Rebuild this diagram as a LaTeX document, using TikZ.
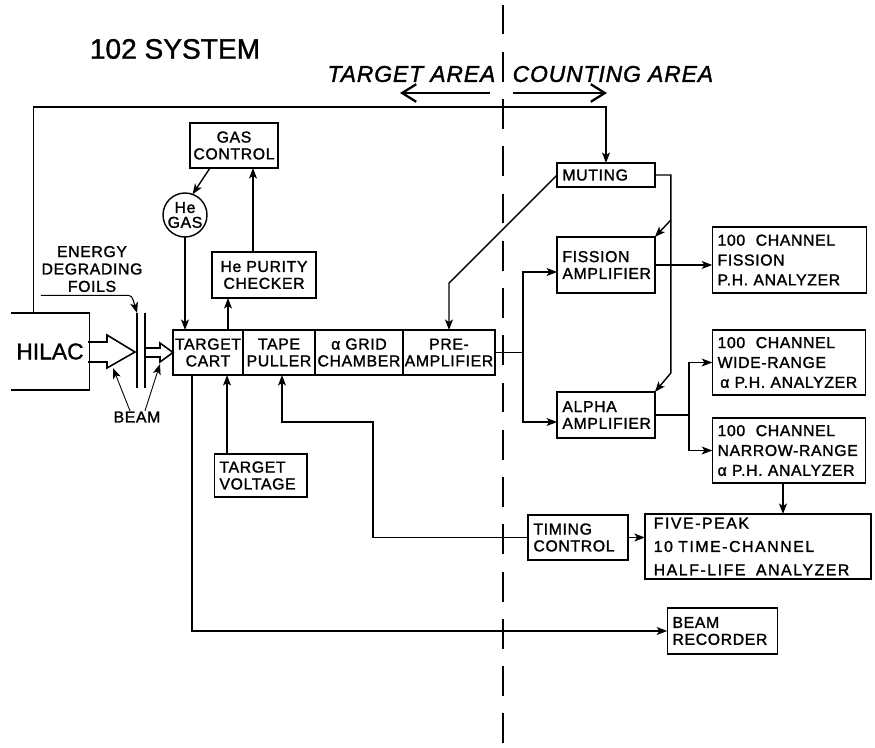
\documentclass[tikz,border=0pt]{standalone}
\usepackage{fontspec}
\setmainfont{Liberation Sans}[FakeBold=1.2]
\newfontfamily\lettering{Liberation Sans}[LetterSpace=4, FakeBold=1.5]
\usetikzlibrary{arrows.meta, positioning, calc}

\begin{document}
\begin{tikzpicture}[x=0.02cm, y=-0.02cm, line width=0.8pt,
    >={Stealth[length=6pt, width=4.5pt, inset=1.5pt]},
    blk/.style={draw, outer sep=0pt, inner xsep=1pt, inner ysep=1pt,
                font=\lettering\fontsize{9}{9.6}\selectfont, align=center},
    lblk/.style={blk, align=left, inner xsep=3pt, text width=#1},
    tall/.style={font=\lettering\fontsize{9}{11.3}\selectfont},
    lbl/.style={inner sep=0pt, align=center,
                font=\lettering\fontsize{9}{9.9}\selectfont},
    area/.style={inner sep=0pt, font=\lettering\itshape\fontsize{13}{13}\selectfont},
    bigarrow/.style={-{Straight Barb[length=8pt, width=10pt]}, line width=1.3pt}]
  \useasboundingbox (0,0) rectangle (875,747);

  % title and areas
  \node[inner sep=0pt, font=\fontsize{16}{16}\selectfont] (title) at (175,49) {102 SYSTEM};
  \coordinate (div) at (503,93);
  \node[area, anchor=east] (tarea) at (496,74) {TARGET AREA};
  \node[area, anchor=west] (carea) at (512,74) {COUNTING AREA};
  \draw[bigarrow] ([xshift=-0.26cm]div) -- ([xshift=-2.06cm]div);
  \draw[bigarrow] ([xshift=0.2cm]div) -- ([xshift=2.08cm]div);
  \draw[line width=1.3pt, dash pattern=on 17pt off 9.9pt] (503,4.5) -- (503,747);

  % accelerator and beam
  \node[outer sep=0pt, minimum width=1.52cm, minimum height=1.54cm,
        font=\fontsize{13}{13}\selectfont] (hilac) at (50,351.5) {HILAC};
  \draw (hilac.north west) -- (hilac.north east) -- (hilac.south east) -- (hilac.south west);
  \coordinate (fa) at (137,313);
  \coordinate (fb) at (145,313);
  \draw[line width=1.1pt] (fa) -- ++(0,75) (fb) -- ++(0,75);
  \node[lbl] (foils) at (92,269) {ENERGY\\DEGRADING\\FOILS};
  \draw[->, line width=0.6pt] ([yshift=-1.5pt]foils.south west) -- ++(84,0)
    .. controls +(7,0) .. (fa);

  % target area
  \node[blk, minimum width=1.4cm, minimum height=0.9cm] (cart) at (208,352.5) {TARGET\\CART};
  \node[blk, minimum width=1.44cm, minimum height=0.9cm, right=0pt of cart] (puller) {TAPE\\PULLER};
  \node[blk, minimum width=1.76cm, minimum height=0.9cm, right=0pt of puller] (grid) {α GRID\\CHAMBER};
  \node[blk, minimum width=1.84cm, minimum height=0.9cm, right=0pt of grid] (preamp) {PRE-\\AMPLIFIER};
  \node[blk, minimum width=1.76cm, minimum height=0.9cm] (gasctl) at (234,145.5) {GAS\\CONTROL};
  \node[blk, circle, minimum size=0.88cm, inner sep=0pt,
        font=\lettering\fontsize{9}{8.5}\selectfont] (hegas) at (185,215) {He\\GAS};
  \node[blk, minimum width=2.08cm, minimum height=0.92cm] (purity) at (264,275) {He PURITY\\CHECKER};
  \node[lblk=46.7pt, minimum height=0.86cm] (voltage) at (260.5,475.5) {TARGET\\VOLTAGE};

  \draw[line width=0.9pt] (88,342) -- (107,342) -- (107,335) -- (135,352) -- (107,368)
    -- (107,362) -- (88,362);
  \draw[line width=0.9pt] (146,348) -- (160,348) -- (160,343) -- (cart.west) -- (160,362)
    -- (160,357) -- (146,357);
  \coordinate (bigbot) at (113,368);
  \coordinate (smallbot) at (160,364);
  \node[lbl] (beam) at (137,417) {BEAM};
  \draw[->, line width=0.5pt] ([xshift=-0.14cm]beam.north) -- (bigbot);
  \draw[->, line width=0.5pt] ([xshift=0.16cm]beam.north) -- (smallbot);

  % counting area
  \node[lblk=49.6pt, minimum height=0.48cm] (muting) at (606,175) {MUTING};
  \node[lblk=49.6pt, minimum height=1.12cm] (fission) at (606,265) {FISSION\\AMPLIFIER};
  \node[lblk=49.6pt, minimum height=0.92cm] (alpha) at (606,415) {ALPHA\\AMPLIFIER};
  \node[lblk=81.9pt, tall, minimum height=1.32cm] (fissionph) at (789.5,260)
    {100~~CHANNEL\\FISSION\\P.H. ANALYZER};
  \node[lblk=81.3pt, tall, minimum height=1.3cm] (wide) at (789,362.5)
    {100~~CHANNEL\\WIDE-RANGE\\\,α P.H. ANALYZER};
  \node[lblk=81.3pt, tall, minimum height=1.3cm] (narrow) at (789,450.5)
    {100~~CHANNEL\\NARROW-RANGE\\α P.H. ANALYZER};
  \node[lblk=50.7pt, minimum height=0.9cm] (timing) at (578,537.5) {TIMING\\CONTROL};
  \node[lblk=118.7pt, minimum height=1.3cm, inner xsep=5pt,
        font=\lettering\addfontfeature{LetterSpace=10}\fontsize{9}{13.3}\selectfont]
    (fivepeak) at (758,546.5) {FIVE-PEAK\\10 TIME-CHANNEL\\HALF-LIFE~~ANALYZER};
  \node[lblk=56.9pt, minimum height=0.92cm] (recorder) at (722.5,631) {BEAM\\RECORDER};

  % connections
  \coordinate (topline) at (0,107);
  \draw[->] ([xshift=0.46cm]hilac.north west) |- (muting.north |- topline) -- (muting.north);
  \draw[->] ([xshift=-0.48cm]gasctl.south) -- (hegas.70);
  \coordinate (pc) at ([xshift=-0.22cm]purity.north);
  \draw[->] (pc) -- (pc |- gasctl.south);
  \draw[->] (hegas.south) -- (hegas.south |- cart.north);
  \coordinate (cc) at ([xshift=0.4cm]cart.north);
  \draw[->] (cc) -- (cc |- purity.south);
  \coordinate (vc) at ([xshift=-0.67cm]voltage.north);
  \draw[->] (vc) -- (vc |- cart.south);
  \draw[->] ([xshift=-0.32cm]cart.south) |- (recorder.west);
  \coordinate (tk) at (373,422);
  \draw[->] (timing.west) -| (tk) -| ([xshift=0.06cm]puller.south);
  \draw[->] (muting.west) -- ([yshift=0.94cm]preamp.north) -- (preamp.north);

  \coordinate (mr) at ([xshift=0.32cm]muting.east);
  \coordinate (ma) at ([yshift=0.38cm]alpha.north east);
  \coordinate (mf) at ([yshift=0.34cm]fission.north east);
  \draw[->] (muting.east) -| (ma -| mr) -- (alpha.north east);
  \draw[->] (mf -| mr) -- (fission.north east);

  \coordinate (sp) at ([xshift=0.56cm]preamp.east);
  \draw (preamp.east) -- (sp);
  \draw[->] (sp) |- ([yshift=-0.14cm]fission.west);
  \draw[->] (sp) |- ([yshift=-0.14cm]alpha.west);
  \draw[->] (fission.east) -- (fission.east -| fissionph.west);
  \coordinate (ac) at ([xshift=0.68cm]alpha.east);
  \draw (alpha.east) -- (ac);
  \draw[->] (ac) |- (wide.west);
  \draw[->] (ac) |- (narrow.west);
  \coordinate (nc) at ([xshift=-0.12cm]narrow.south);
  \draw[->] (nc) -- (nc |- fivepeak.north);
  \draw[->] (timing.east) -- (timing.east -| fivepeak.west);
\end{tikzpicture}
\end{document}
